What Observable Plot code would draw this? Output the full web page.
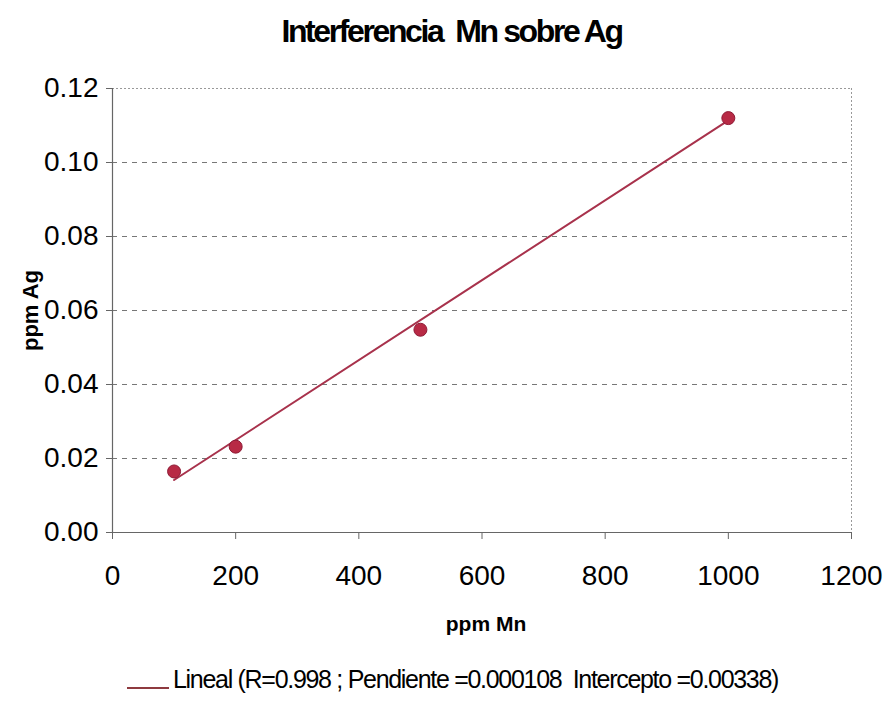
<!DOCTYPE html>
<html>
<head>
<meta charset="utf-8">
<script src="https://cdn.jsdelivr.net/npm/d3@7"></script>
<script src="https://cdn.jsdelivr.net/npm/@observablehq/plot@0.6"></script>
<style>
  html, body { margin: 0; padding: 0; background: #fff; }
  body { width: 883px; height: 709px; overflow: hidden; font-family: "Liberation Sans", Arial, sans-serif; }
  #title { height: 60px; line-height: 62px; text-align: center; font-weight: bold; font-size: 32px; letter-spacing: -2.4px; padding-left: 20px; color: #000; }
  #legend { height: 59px; display: flex; align-items: center; padding-left: 127px; font-size: 25px; letter-spacing: -1.3px; color: #000; }
  #legend .swatch { display: inline-block; width: 42px; height: 0; border-top: 2px solid #8e3a3f; margin-right: 4px; margin-top: 16px; }
  svg { display: block; }
</style>
</head>
<body>
<div id="title">Interferencia&nbsp; Mn sobre Ag</div>
<div id="chart"></div>
<div id="legend"><span class="swatch"></span><span id="legendText"></span></div>
<script>
// Measured concentrations: Mn added (ppm) vs apparent Ag (ppm)
const ppmMn = [100, 200, 500, 1000];
const ppmAg = [0.0165, 0.0232, 0.0548, 0.1120];

// Linear fit reported in the legend
const fitR = 0.998;
const fitSlope = 0.000108;
const fitIntercept = 0.00338;
const fitRange = [100, 1000];

// Axis ticks
const xTicks = [0, 200, 400, 600, 800, 1000, 1200];
const yTicks = [0.00, 0.02, 0.04, 0.06, 0.08, 0.10, 0.12];

const points = ppmMn.map((x, i) => ({x, y: ppmAg[i]}));
const fitLine = fitRange.map(x => ({x, y: fitIntercept + fitSlope * x}));

const chart = Plot.plot({
  width: 883,
  height: 590,
  marginLeft: 112,
  marginRight: 32,
  marginTop: 28,
  marginBottom: 118,
  style: { fontFamily: "Liberation Sans, Arial, sans-serif", background: "#fff", overflow: "visible" },
  x: { domain: [0, 1200], ticks: xTicks, label: null },
  y: { domain: [0, 0.12], ticks: yTicks, label: null },
  marks: [
    // horizontal dashed grid
    Plot.ruleY(yTicks.slice(1, -1), { stroke: "#555", strokeWidth: 1.2, strokeDasharray: "5,5", strokeOpacity: 0.8 }),
    // dotted frame top and right
    Plot.ruleY([0.12], { stroke: "#999", strokeWidth: 1, strokeDasharray: "2,2" }),
    Plot.ruleX([1200], { stroke: "#999", strokeWidth: 1, strokeDasharray: "2,2" }),
    // axes lines
    Plot.ruleY([0], { stroke: "#666", strokeWidth: 1.2 }),
    Plot.ruleX([0], { stroke: "#666", strokeWidth: 1.2 }),
    Plot.axisX({ ticks: xTicks, tickSize: 7, tickPadding: 26, fontSize: 28, letterSpacing: -1.5, stroke: "#666",
                 tickFormat: d => String(d), fill: "#000" }),
    Plot.axisY({ ticks: yTicks, tickSize: 6, tickPadding: 8, fontSize: 28, letterSpacing: -1.5, stroke: "#666",
                 tickFormat: d => d.toFixed(2), fill: "#000" }),
    // fitted line
    Plot.line(fitLine, { x: "x", y: "y", stroke: "#a8324c", strokeWidth: 2 }),
    // data points
    Plot.dot(points, { x: "x", y: "y", r: 6.5, fill: "#b82a45", stroke: "#8e1a35", strokeWidth: 1 }),
    // axis titles
    Plot.text(["ppm Mn"], { frameAnchor: "bottom", dy: 98, dx: 4, fontSize: 21, fontWeight: "bold", fill: "#000", textAnchor: "middle", letterSpacing: -1 }),
    Plot.text(["ppm Ag"], { frameAnchor: "left", dx: -82, rotate: -90, fontSize: 22, fontWeight: "bold", fill: "#000", textAnchor: "middle", letterSpacing: -0.5 })
  ]
});
document.getElementById("chart").appendChild(chart);

document.getElementById("legendText").textContent =
  `Lineal (R=${fitR} ; Pendiente =${fitSlope}\u00a0 Intercepto =${fitIntercept})`;
</script>
</body>
</html>
